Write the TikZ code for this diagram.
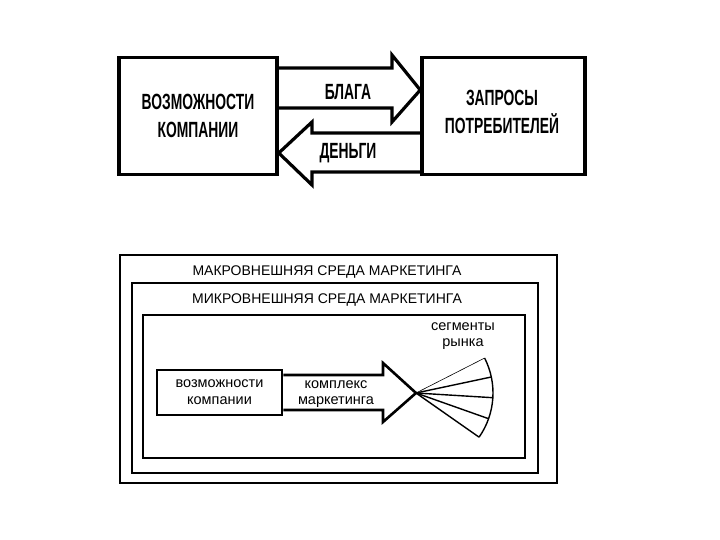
\documentclass[tikz,border=0pt]{standalone}
\usepackage{fontspec}
\setmainfont{Liberation Sans}
\newfontfamily\narrowfont[FakeStretch=0.63]{Liberation Sans}
\usetikzlibrary{calc}
\begin{document}
\begin{tikzpicture}[x=1pt,y=-1pt,
  bigbox/.style={draw,line width=3.5pt,inner sep=0pt},
  thinbox/.style={draw,line width=2.6pt,inner sep=0pt},
  fat/.style={draw,line width=3.2pt,line join=miter},
  fatb/.style={draw,line width=2.6pt,line join=miter},
  captop/.style={font=\narrowfont\bfseries\fontsize{22}{28}\selectfont,align=center},
  capbot/.style={font=\fontsize{14}{16}\selectfont},
  lowtxt/.style={font=\fontsize{14.5}{16.5}\selectfont,align=center}]
\useasboundingbox (0,0) rectangle (720,540);
% ---- upper diagram ----
\node[bigbox,minimum width=158pt,minimum height=117pt] (comp) at (198,116) {};
\node[bigbox,minimum width=163pt,minimum height=117pt] (cons) at (503.5,116) {};
\node[captop] at (198,115.5) {ВОЗМОЖНОСТИ\\КОМПАНИИ};
\node[captop] at (502,111.5) {ЗАПРОСЫ\\ПОТРЕБИТЕЛЕЙ};
\draw[fat] (comp.east |- 0,68) -- (392,68) -- (392,55) -- (cons.west |- 0,90) -- (392,122) -- (392,108) -- (comp.east |- 0,108);
\draw[fat] (cons.west |- 0,133) -- (312,133) -- (312,122) -- (comp.east |- 0,153) -- (312,185) -- (312,172) -- (cons.west |- 0,172);
\node[captop] (goods) at (348,92) {БЛАГА};
\node[captop] (money) at (348,153) {ДЕНЬГИ};
% ---- lower diagram ----
\node[thinbox,minimum width=437pt,minimum height=228pt] (macro) at (338.5,369) {};
\node[thinbox,minimum width=406pt,minimum height=190pt] (micro) at (335,378) {};
\node[thinbox,minimum width=382pt,minimum height=143pt] (inner) at (334,386.5) {};
\node[capbot] at (327,272) {МАКРОВНЕШНЯЯ СРЕДА МАРКЕТИНГА};
\node[capbot] at (327,300) {МИКРОВНЕШНЯЯ СРЕДА МАРКЕТИНГА};
\node[thinbox,minimum width=125pt,minimum height=45pt] (cap) at (219.5,392.5) {};
\node[lowtxt] at (219.5,392) {возможности\\компании};
\coordinate (apex) at (416,393);
\draw[fatb] (cap.east |- 0,375) -- (383,375) -- (383,363) -- (apex) -- (383,422) -- (383,410) -- (cap.east |- 0,410);
\node[lowtxt] (mix) at (336,394) {комплекс\\маркетинга};
\draw[line width=0.6pt] (apex) -- ++(-27:77);
\draw[line width=1.4pt] (apex) -- ++(-12:77);
\draw[line width=1.4pt] (apex) -- ++(3.5:77);
\draw[line width=1.4pt] (apex) -- ++(19.5:77);
\draw[line width=1.4pt] (apex) -- ++(35:77);
\draw[line width=1.4pt] ($(apex)+(-27:77)$) arc[start angle=-27,end angle=35,radius=77];
\node[lowtxt] (seg) at (463,336) {сегменты\\рынка};
\end{tikzpicture}
\end{document}
